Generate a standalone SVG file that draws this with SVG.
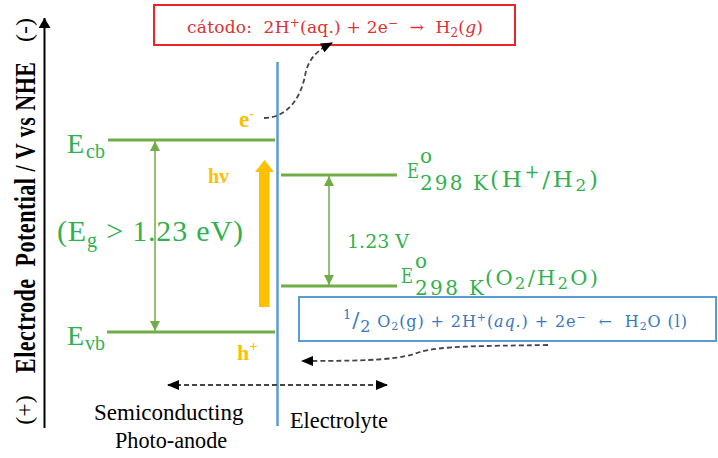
<svg xmlns="http://www.w3.org/2000/svg" width="718" height="458" viewBox="0 0 718 458">
<style>
text{white-space:pre}
.tnr{font-family:"Liberation Serif","Times New Roman",serif}
.cm{font-family:"DejaVu Serif","Liberation Serif",serif}
.gtx{fill:#33B04E}
.gl{stroke:#70AD47;stroke-width:3;fill:none}
.ga{stroke:#70AD47;stroke-width:1.5;fill:none;marker-start:url(#gh);marker-end:url(#gh)}
.dash{fill:none;stroke:#444;stroke-width:1.8;stroke-dasharray:5 3}
.or{fill:#FFC000}
</style>
<defs>
<marker id="bh" viewBox="0 0 12 10" refX="11" refY="5" markerWidth="12" markerHeight="10" markerUnits="userSpaceOnUse" orient="auto-start-reverse"><path d="M0,0 L12,5 L0,10 z" fill="#000"/></marker>
<marker id="gh" viewBox="0 0 10 10" refX="10" refY="5" markerWidth="10" markerHeight="10" markerUnits="userSpaceOnUse" orient="auto-start-reverse"><path d="M0,0 L10,5 L0,10 z" fill="#70AD47"/></marker>
<marker id="axh" viewBox="0 0 10 12" refX="10" refY="6" markerWidth="10" markerHeight="12" markerUnits="userSpaceOnUse" orient="auto"><path d="M0,0 L10,6 L0,12 z" fill="#000"/></marker>
</defs>
<rect width="718" height="458" fill="#fff"/>

<g id="axis">
<text class="tnr" font-size="24" text-anchor="middle" transform="translate(32,410) rotate(-90)">(+)</text>
<g transform="translate(35,373) rotate(-90) scale(1,1.38)"><text class="tnr" x="0" y="0" font-size="22" font-weight="bold" textLength="311" lengthAdjust="spacing">Electrode  Potential / V vs NHE</text></g>
<text class="tnr" font-size="24" text-anchor="middle" transform="translate(32,30) rotate(-90)">(-)</text>
</g>

<g id="cathode-box">
<rect x="154" y="5" width="361" height="40" fill="#fff" stroke="#E8262A" stroke-width="2"/>
<text class="cm" x="187" y="33" font-size="17" fill="#E0302F" textLength="296" lengthAdjust="spacing">cátodo:  2H<tspan dy="-6" font-size="12">+</tspan><tspan dy="6">(aq.) + 2e</tspan><tspan dy="-6" font-size="12">−</tspan><tspan dy="6">  →  H</tspan><tspan dy="4" font-size="12">2</tspan><tspan dy="-4">(</tspan><tspan font-style="italic">g</tspan>)</text>
</g>

<g id="interface">
<line x1="277.5" y1="62" x2="277.5" y2="426" stroke="#5B9BD5" stroke-width="2.5"/>
</g>

<g id="semiconductor">
<line class="gl" x1="108" y1="140" x2="275" y2="140"/>
<line class="gl" x1="107" y1="332" x2="275" y2="332"/>
<text class="tnr gtx" x="67" y="153" font-size="28">E<tspan dx="2" dy="5" font-size="20">cb</tspan></text>
<text class="tnr gtx" x="67" y="345" font-size="28">E<tspan dx="1" dy="5" font-size="20">vb</tspan></text>
<text class="tnr gtx" x="57" y="241" font-size="30" textLength="186" lengthAdjust="spacing">(E<tspan dy="6" font-size="20">g</tspan><tspan dy="-6"> &gt; 1.23 eV)</tspan></text>
</g>

<g id="photon">
<polygon class="or" points="259,307 269.5,307 269.5,172 274,172 264.5,160 255,172 259,172"/>
<text class="tnr or" x="208" y="183" font-size="20" font-weight="bold">hv</text>
<text class="tnr or" x="239" y="127" font-size="23" font-weight="bold">e<tspan dy="-9" font-size="13">-</tspan></text>
<text class="tnr or" x="237" y="360" font-size="22" font-weight="bold">h<tspan dy="-9" font-size="15">+</tspan></text>
</g>

<g id="electrolyte">
<line class="gl" x1="281" y1="175" x2="397" y2="175"/>
<line class="gl" x1="281" y1="286" x2="397" y2="286"/>
<text class="cm gtx" x="347" y="248" font-size="19">1.23 V</text>
<text class="cm gtx" x="407" y="178" font-size="20" textLength="12" lengthAdjust="spacingAndGlyphs">E</text>
<text class="cm gtx" x="420" y="163" font-size="20">o</text>
<text class="cm gtx" x="420" y="190" font-size="20" textLength="68" lengthAdjust="spacing">298 K</text>
<text class="cm gtx" x="490" y="187" font-size="23" textLength="108" lengthAdjust="spacing">(H<tspan dy="-9" font-size="18">+</tspan><tspan dy="9">/H</tspan><tspan dy="4" font-size="17">2</tspan><tspan dy="-4">)</tspan></text>
<text class="cm gtx" x="401" y="283" font-size="20" textLength="12" lengthAdjust="spacingAndGlyphs">E</text>
<text class="cm gtx" x="415" y="268" font-size="20">o</text>
<text class="cm gtx" x="415" y="295" font-size="20" textLength="69" lengthAdjust="spacing">298 K</text>
<text class="cm gtx" x="485" y="285" font-size="21" textLength="113" lengthAdjust="spacing">(O<tspan dy="4" font-size="16">2</tspan><tspan dy="-4">/H</tspan><tspan dy="4" font-size="16">2</tspan><tspan dy="-4">O)</tspan></text>
</g>

<g id="anode-box">
<rect x="299" y="297" width="417" height="44" fill="#fff" stroke="#5B9BD5" stroke-width="2"/>
<text class="cm" x="343" y="327" font-size="16" fill="#3A78C0" textLength="344" lengthAdjust="spacing"><tspan dy="-8" font-size="13">1</tspan><tspan dy="8" font-size="21">/</tspan><tspan dy="5" font-size="16">2</tspan><tspan dy="-5"> O</tspan><tspan dy="3" font-size="11">2</tspan><tspan dy="-3">(g) + 2H</tspan><tspan dy="-6" font-size="11">+</tspan><tspan dy="6">(</tspan><tspan font-style="italic">aq</tspan>.) + 2e<tspan dy="-6" font-size="11">−</tspan><tspan dy="6">  ←  H</tspan><tspan dy="3" font-size="11">2</tspan><tspan dy="-3">O (l)</tspan></text>
</g>

<g id="region-labels">
<text class="tnr" x="94" y="420" font-size="23">Semiconducting</text>
<text class="tnr" x="115" y="448" font-size="22.2">Photo-anode</text>
<text class="tnr" x="290" y="428" font-size="22.3">Electrolyte</text>
</g>

<g id="connectors">
<line x1="44.5" y1="428" x2="44.5" y2="18" stroke="#000" stroke-width="2" marker-end="url(#axh)"/>
<line class="ga" x1="155" y1="141" x2="155" y2="331"/>
<line class="ga" x1="329" y1="176" x2="329" y2="285"/>
<path class="dash" d="M264,118 C286,118 300,100 305,76 C308,58 318,50 332,43" marker-end="url(#bh)"/>
<path class="dash" d="M548,345 C480,346 440,346 420,352 C400,359 380,361 302,361" marker-end="url(#bh)"/>
<line class="dash" x1="168" y1="385" x2="387" y2="385" stroke="#000" marker-start="url(#bh)" marker-end="url(#bh)"/>
</g>
</svg>
